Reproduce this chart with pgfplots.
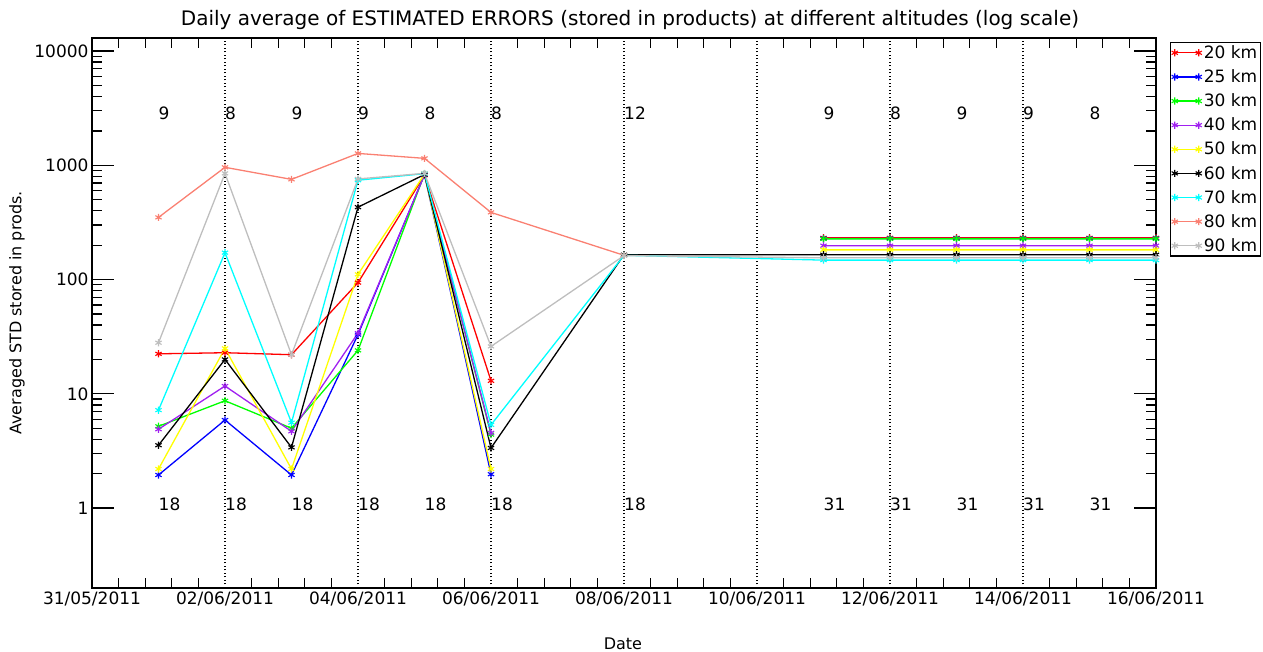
\documentclass[border=0pt]{standalone}
\usepackage{fontspec}
\setmainfont{DejaVu Sans}
\usepackage{pgfplots}
\usepackage{pgfplotstable}
\pgfplotsset{compat=1.18}
\definecolor{cred}{RGB}{255,0,0}
\definecolor{cblue}{RGB}{0,0,255}
\definecolor{cgreen}{RGB}{0,255,0}
\definecolor{cpurple}{RGB}{160,32,240}
\definecolor{cyellow}{RGB}{255,255,0}
\definecolor{ccyan}{RGB}{0,255,255}
\definecolor{csalmon}{RGB}{250,128,114}
\definecolor{cgray}{RGB}{190,190,190}

\pgfplotstableread{
day a20 a25 a30 a40 a50 a60 a70 a80 a90
1 22.4 1.95 5.2 4.9 2.2 3.55 7.2 350 28
2 22.9 5.9 8.7 11.7 25 20 172 960 850
3 22 1.95 5.0 4.7 2.2 3.4 5.6 753 22
4 94 33 24 34 111 430 740 1270 760
5 820 830 840 825 835 830 845 1150 850
6 13 1.98 4.4 4.55 2.2 3.36 5.35 387 26
8 nan nan nan nan nan 165 163 163 162
11 232 229 227 198 182 165 148 nan 155
12 232 229 227 198 182 165 148 nan 155
13 232 229 227 198 182 165 148 nan 155
14 232 229 227 198 182 165 148 nan 155
15 232 229 227 198 182 165 148 nan 155
16 232 229 227 198 182 165 148 nan 155
}\data

\newcommand{\lf}{\fontsize{17}{17}\selectfont}

\begin{document}
\begin{tikzpicture}
\path[use as bounding box] (-92pt,-64pt) rectangle (1171pt,588pt);
\begin{axis}[
  at={(0pt,0pt)}, anchor=south west,
  scale only axis, width=1064pt, height=550pt,
  xmin=0, xmax=16,
  ymode=log, ymin=0.2, ymax=13000,
  unbounded coords=jump,
  xtick={0,2,...,16},
  xticklabels={31/05/2011,02/06/2011,04/06/2011,06/06/2011,08/06/2011,10/06/2011,12/06/2011,14/06/2011,16/06/2011},
  minor x tick num=4,
  ytick={1,10,100,1000,10000},
  yticklabels={1,10,100,1000,10000},
  major tick length=22pt, minor tick length=10pt,
  tick style={black, line width=1.3pt},
  every major x tick/.append style={draw=none},
  axis line style={line width=1.4pt},
  xmajorgrids,
  major x grid style={black, line width=1.3pt, dash pattern=on 1.3pt off 2.2pt},
  ticklabel style={font=\lf},
  title={Daily average of ESTIMATED ERRORS (stored in products) at different altitudes (log scale)},
  title style={at={(axis description cs:0.5056,1.0127)}, anchor=base, font=\fontsize{20}{20}\selectfont},
  xlabel={Date},
  every axis x label/.style={at={(axis description cs:0.499,-0.1127)}, anchor=base, font=\fontsize{16}{16}\selectfont},
  ylabel={Averaged STD stored in prods.},
  every axis y label/.style={at={(axis description cs:-0.0705,0.5)}, rotate=90, anchor=center, font=\fontsize{16}{16}\selectfont},
  legend style={at={(axis description cs:1.0132,0.9927)}, anchor=north west, draw=black, line width=1.2pt, font=\lf, inner xsep=1pt, inner ysep=1pt, row sep=5.7pt},
  legend cell align=left,
  legend image code/.code={\draw[#1] plot coordinates {(0pt,0pt) (24pt,0pt)};},
  every axis plot/.append style={line width=1.3pt, mark=asterisk, mark size=3.6pt, mark options={solid, line width=1.1pt}},
]
\addplot[cred] table[x=day,y=a20]{\data}; \addlegendentry{20 km}
\addplot[cblue] table[x=day,y=a25]{\data}; \addlegendentry{25 km}
\addplot[cgreen] table[x=day,y=a30]{\data}; \addlegendentry{30 km}
\addplot[cpurple] table[x=day,y=a40]{\data}; \addlegendentry{40 km}
\addplot[cyellow] table[x=day,y=a50]{\data}; \addlegendentry{50 km}
\addplot[black] table[x=day,y=a60]{\data}; \addlegendentry{60 km}
\addplot[ccyan] table[x=day,y=a70]{\data}; \addlegendentry{70 km}
\addplot[csalmon] table[x=day,y=a80]{\data}; \addlegendentry{80 km}
\addplot[cgray] table[x=day,y=a90]{\data}; \addlegendentry{90 km}

\node[anchor=west, inner sep=0pt, font=\lf] at (axis cs:1,2830) {9};
\node[anchor=west, inner sep=0pt, font=\lf] at (axis cs:2,2830) {8};
\node[anchor=west, inner sep=0pt, font=\lf] at (axis cs:3,2830) {9};
\node[anchor=west, inner sep=0pt, font=\lf] at (axis cs:4,2830) {9};
\node[anchor=west, inner sep=0pt, font=\lf] at (axis cs:5,2830) {8};
\node[anchor=west, inner sep=0pt, font=\lf] at (axis cs:6,2830) {8};
\node[anchor=west, inner sep=0pt, font=\lf] at (axis cs:8,2830) {12};
\node[anchor=west, inner sep=0pt, font=\lf] at (axis cs:11,2830) {9};
\node[anchor=west, inner sep=0pt, font=\lf] at (axis cs:12,2830) {8};
\node[anchor=west, inner sep=0pt, font=\lf] at (axis cs:13,2830) {9};
\node[anchor=west, inner sep=0pt, font=\lf] at (axis cs:14,2830) {9};
\node[anchor=west, inner sep=0pt, font=\lf] at (axis cs:15,2830) {8};
\node[anchor=west, inner sep=0pt, font=\lf] at (axis cs:1,1.08) {18};
\node[anchor=west, inner sep=0pt, font=\lf] at (axis cs:2,1.08) {18};
\node[anchor=west, inner sep=0pt, font=\lf] at (axis cs:3,1.08) {18};
\node[anchor=west, inner sep=0pt, font=\lf] at (axis cs:4,1.08) {18};
\node[anchor=west, inner sep=0pt, font=\lf] at (axis cs:5,1.08) {18};
\node[anchor=west, inner sep=0pt, font=\lf] at (axis cs:6,1.08) {18};
\node[anchor=west, inner sep=0pt, font=\lf] at (axis cs:8,1.08) {18};
\node[anchor=west, inner sep=0pt, font=\lf] at (axis cs:11,1.08) {31};
\node[anchor=west, inner sep=0pt, font=\lf] at (axis cs:12,1.08) {31};
\node[anchor=west, inner sep=0pt, font=\lf] at (axis cs:13,1.08) {31};
\node[anchor=west, inner sep=0pt, font=\lf] at (axis cs:14,1.08) {31};
\node[anchor=west, inner sep=0pt, font=\lf] at (axis cs:15,1.08) {31};
\end{axis}
\end{tikzpicture}
\end{document}
